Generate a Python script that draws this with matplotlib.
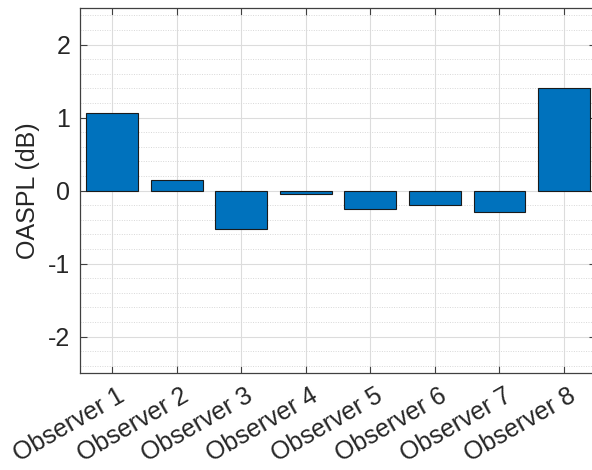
import numpy as np
import matplotlib.pyplot as plt
from matplotlib.ticker import MultipleLocator
from matplotlib.transforms import ScaledTranslation

plt.rcParams['font.family'] = ['Liberation Sans', 'DejaVu Sans']

observers = ['Observer 1', 'Observer 2', 'Observer 3', 'Observer 4',
             'Observer 5', 'Observer 6', 'Observer 7', 'Observer 8']
oaspl = [1.06, 0.14, -0.525, -0.04, -0.25, -0.20, -0.29, 1.40]

fig = plt.figure(figsize=(5.92, 4.70), dpi=100)
ax = fig.add_axes([0.135, 0.206, 0.872, 0.777])

x = np.arange(1, len(observers) + 1)
ax.bar(x, oaspl, width=0.8, color='#0072BD', edgecolor='#1a1a1a',
       linewidth=0.8, zorder=3)

ax.set_xlim(0.5, 8.5)
ax.set_ylim(-2.5, 2.5)
ax.set_xticks(x)
ax.set_xticklabels([''] * len(observers))
ax.set_yticks([-2, -1, 0, 1, 2])
ax.set_yticklabels(['-2', '-1', '0', '1', '2'], fontsize=18, color='#262626')
ax.yaxis.set_minor_locator(MultipleLocator(0.2))
ax.set_ylabel('OASPL (dB)', fontsize=18, color='#262626', labelpad=6)

# rotated category labels, right end placed just below-right of each tick
trans = ax.get_xaxis_transform() + ScaledTranslation(10 / 100, -21 / 100,
                                                     fig.dpi_scale_trans)
for xi, name in zip(x, observers):
    ax.text(xi, 0, name, transform=trans, rotation=30, ha='right',
            va='center', rotation_mode='anchor', fontsize=18,
            color='#262626', clip_on=False)

# matlab-like box, inward ticks, major and minor grid
ax.tick_params(axis='both', which='major', direction='in', length=5,
               width=0.8, color='#404040', top=True, right=True, pad=7)
ax.tick_params(axis='y', which='minor', length=0, left=False, right=False)
ax.grid(True, which='major', color='#dcdcdc', linewidth=0.8, zorder=0)
ax.grid(True, which='minor', axis='y', color='#d8d8d8', linestyle=(0, (1, 1.5)),
        linewidth=0.7, zorder=0)
ax.set_axisbelow(True)
for s in ax.spines.values():
    s.set_color('#404040')
    s.set_linewidth(0.9)

fig.savefig('out.png', dpi=100)
